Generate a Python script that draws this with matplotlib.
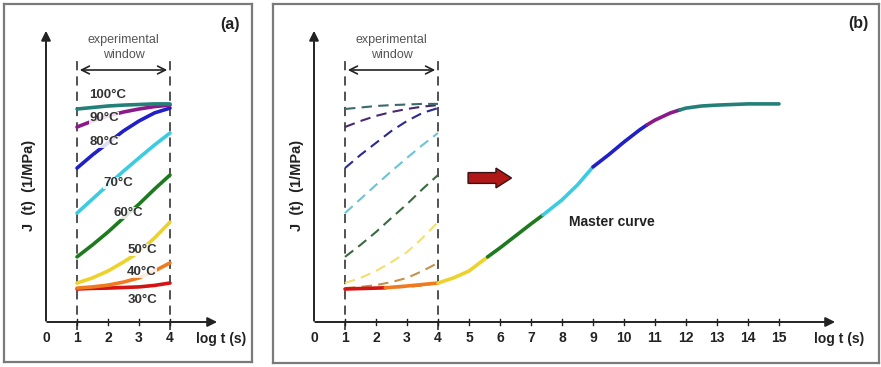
import numpy as np
import matplotlib
matplotlib.use("Agg")
import matplotlib.pyplot as plt

plt.rcParams['font.family'] = ['Liberation Sans', 'DejaVu Sans']

# short-time creep curves, J in arbitrary units
logt = [1, 1.5, 2, 2.5, 3, 3.5, 4]
temps = ['30°C', '40°C', '50°C', '60°C', '70°C', '80°C', '90°C', '100°C']
J_30 = [1.10, 1.12, 1.13, 1.15, 1.17, 1.22, 1.30]
J_40 = [1.13, 1.17, 1.23, 1.33, 1.47, 1.70, 1.97]
J_50 = [1.30, 1.47, 1.70, 2.00, 2.33, 2.80, 3.33]
J_60 = [2.17, 2.57, 3.00, 3.47, 3.93, 4.43, 4.90]
J_70 = [3.63, 4.10, 4.57, 5.03, 5.47, 5.90, 6.30]
J_80 = [5.13, 5.57, 5.97, 6.37, 6.70, 6.97, 7.13]
J_90 = [6.50, 6.70, 6.87, 7.00, 7.10, 7.18, 7.23]
J_100 = [7.10, 7.15, 7.20, 7.23, 7.25, 7.27, 7.27]
curves = [J_30, J_40, J_50, J_60, J_70, J_80, J_90, J_100]

solid_colors = ['#d41414', '#f07a1e', '#ecd22a', '#1e7a1e', '#3ccce0', '#2020c8', '#8a1a8a', '#238078']
dash_colors = ['#c8602a', '#c8904a', '#f2e070', '#3a6a40', '#6cc4d4', '#2a2a90', '#4a2a6c', '#3a6a6a']

# where each temperature label sits in panel (a)
label_x = [3.1, 3.1, 3.1, 2.65, 2.32, 1.87, 1.87, 2.0]
label_y = [0.73, 1.67, 2.4, 3.63, 4.63, 6.0, 6.8, 7.57]

# master curve, panel (b)
master_x = [1, 2, 2.3, 3, 4, 4.5, 5, 5.6, 6, 6.5, 7, 7.39, 8, 8.5, 9, 9.5, 10,
            10.5, 10.74, 11, 11.5, 11.8, 12, 12.5, 13, 14, 15]
master_J = [1.10, 1.13, 1.14, 1.20, 1.30, 1.47, 1.70, 2.17, 2.47, 2.87, 3.27, 3.57,
            4.07, 4.57, 5.17, 5.57, 6.00, 6.40, 6.57, 6.73, 6.97, 7.07, 7.13, 7.20,
            7.23, 7.27, 7.27]
segment_edges = [1, 2.3, 4, 5.6, 7.39, 9, 10.74, 11.8, 15]

W, H = 881, 367


def frame_axes(fig, x0, y0, x1, y1, origin_px, xmax_arrow, ticks):
    ax = fig.add_axes([x0 / W, (H - y1) / H, (x1 - x0) / W, (y1 - y0) / H])
    ax.set_xlim((x0 - origin_px) / 31, (x1 - origin_px) / 31)
    ax.set_ylim((322 - y1) / 30, (322 - y0) / 30)
    ax.set_xticks([])
    ax.set_yticks([])
    for s in ax.spines.values():
        s.set_color('#7a7a7a')
        s.set_linewidth(1.6)
    # axes with arrows
    ax.annotate('', xy=(0, 9.8), xytext=(0, -0.05),
                arrowprops=dict(arrowstyle='-|>', color='#222', lw=1.4, mutation_scale=14))
    ax.annotate('', xy=(xmax_arrow, 0), xytext=(-0.05, 0),
                arrowprops=dict(arrowstyle='-|>', color='#222', lw=1.4, mutation_scale=14))
    for t in ticks:
        if t > 0:
            ax.plot([t, t], [-0.1, 0.1], color='#222', lw=1)
        ax.text(t, -0.55, str(t), ha='center', va='center', fontsize=10,
                fontweight='bold', color='#222')
    # experimental window
    for xv in (1, 4):
        ax.plot([xv, xv], [-0.25, 8.8], color='#222', lw=1.1, dashes=(6, 4))
    ax.annotate('', xy=(1, 8.4), xytext=(4, 8.4),
                arrowprops=dict(arrowstyle='<->', color='#222', lw=1.2, mutation_scale=14))
    ax.text(2.5, 9.15, 'experimental\nwindow', ha='center', va='center', fontsize=9,
            color='#555', linespacing=1.3)
    ax.text(-0.55, 4.55, 'J  (t)  (1/MPa)', rotation=90, ha='center', va='center',
            fontsize=10.5, fontweight='bold', color='#222')
    return ax


fig = plt.figure(figsize=(W / 100, H / 100), dpi=100)

# panel (a)
ax_a = frame_axes(fig, 4, 4, 252, 362, 46, 5.61, [0, 1, 2, 3, 4])
for J, c in zip(curves, solid_colors):
    ax_a.plot(logt, J, color=c, lw=2.6, solid_capstyle='round')
for name, lx, ly in zip(temps, label_x, label_y):
    ax_a.text(lx, ly, name, ha='center', va='center', fontsize=9.5,
              fontweight='bold', color='#333', zorder=5,
              bbox=dict(fc='white', ec='none', pad=0.3, alpha=0.85))
ax_a.text(5.65, -0.55, 'log t (s)', ha='center', va='center', fontsize=10,
          fontweight='bold', color='#222')
ax_a.text(6.26, 9.93, '(a)', ha='right', va='center', fontsize=11.5,
          fontweight='bold', color='#222')

# panel (b)
ax_b = frame_axes(fig, 273, 4, 879, 363, 314, 16.9, list(range(16)))
for J, c in zip(curves, dash_colors):
    ax_b.plot(logt, J, color=c, lw=1.5, dashes=(5, 3))
mx = np.array(master_x)
mJ = np.array(master_J)
for lo, hi, c in zip(segment_edges[:-1], segment_edges[1:], solid_colors):
    sel = (mx >= lo) & (mx <= hi)
    ax_b.plot(mx[sel], mJ[sel], color=c, lw=2.6, solid_capstyle='round')
ax_b.arrow(4.97, 4.8, 0.9, 0, width=0.36, head_width=0.66, head_length=0.5,
           fc='#b01818', ec='#3a1010', lw=1, length_includes_head=False)
ax_b.text(9.6, 3.33, 'Master curve', ha='center', va='center', fontsize=10,
          fontweight='bold', color='#222')
ax_b.text(16.94, -0.55, 'log t (s)', ha='center', va='center', fontsize=10,
          fontweight='bold', color='#222')
ax_b.text(17.9, 9.95, '(b)', ha='right', va='center', fontsize=11.5,
          fontweight='bold', color='#222')

fig.savefig('out.png', dpi=100)
